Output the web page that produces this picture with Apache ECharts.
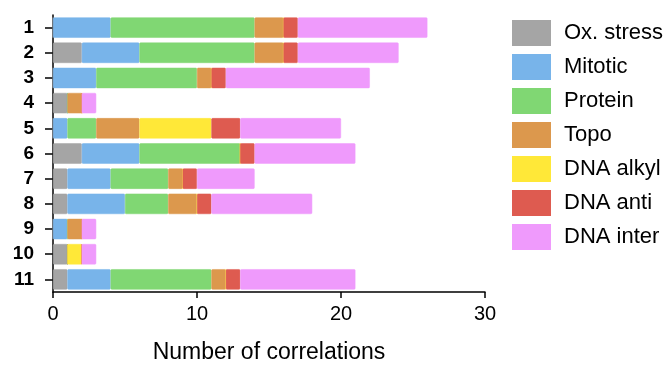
<!DOCTYPE html>
<html><head><meta charset="utf-8">
<script src="https://cdn.jsdelivr.net/npm/echarts@6/dist/echarts.min.js"></script>
<style>html,body{margin:0;padding:0;background:#fff}#c{width:667px;height:369px}</style>
</head><body><div id="c"></div>
<script>
const categories = ['1','2','3','4','5','6','7','8','9','10','11'];
const seriesNames = ['Ox. stress','Mitotic','Protein','Topo','DNA alkyl','DNA anti','DNA inter'];
const colors = ['#A5A5A5','#78B4EA','#80D773','#DC984D','#FFE838','#DE5B50','#EF9AFC'];
const oxStress = [0,2,0,1,0,2,1,1,0,1,1];
const mitotic  = [4,4,3,0,1,4,3,4,1,0,3];
const protein  = [10,8,7,0,2,7,4,3,0,0,7];
const topo     = [2,2,1,1,3,0,1,2,1,0,1];
const dnaAlkyl = [0,0,0,0,5,0,0,0,0,1,0];
const dnaAnti  = [1,1,1,0,2,1,1,1,0,0,1];
const dnaInter = [9,7,10,1,7,7,4,7,1,1,8];
const xTicks = [0,10,20,30];
const values = [oxStress,mitotic,protein,topo,dnaAlkyl,dnaAnti,dnaInter];
const font = "'Liberation Sans', Arial, sans-serif";
const chart = echarts.init(document.getElementById('c'));
chart.setOption({
  animation:false,
  grid:{left:53,top:15,width:432,height:285,containLabel:false},
  legend:{orient:'vertical',left:512,top:20,padding:0,itemWidth:37,itemHeight:24,itemGap:8,
    icon:'rect',data:seriesNames,
    textStyle:{fontFamily:font,fontSize:22,lineHeight:24,color:'#000',padding:[0,0,0,9]}},
  xAxis:{type:'value',min:xTicks[0],max:xTicks[xTicks.length-1],interval:10,
    name:'Number of correlations',nameLocation:'middle',nameGap:49,
    nameTextStyle:{fontFamily:font,fontSize:23,color:'#000'},
    axisLine:{show:true,lineStyle:{color:'#000',width:1.5}},
    axisTick:{show:true,length:6,lineStyle:{color:'#000',width:1.5}},
    axisLabel:{fontFamily:font,fontSize:20,color:'#000',margin:12},
    splitLine:{show:false}},
  yAxis:{type:'category',data:categories,inverse:true,
    axisLine:{show:true,lineStyle:{color:'#000',width:1.5}},
    axisTick:{show:true,length:8,alignWithLabel:true,lineStyle:{color:'#000',width:1.5}},
    axisLabel:{fontFamily:font,fontSize:19,fontWeight:'bold',color:'#000',margin:19},
    splitLine:{show:false}},
  series: seriesNames.map((n,i)=>({
    name:n,type:'bar',stack:'all',data:values[i],barCategoryGap:'19%',
    itemStyle:{color:colors[i],borderColor:colors[i],borderWidth:0.5,borderRadius:1}
  }))
});
</script></body></html>
